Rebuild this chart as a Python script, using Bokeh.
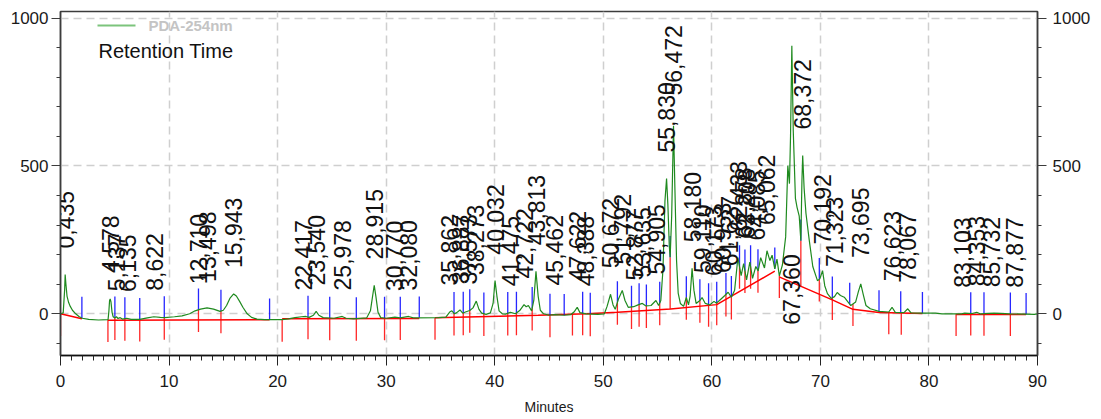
import math
import numpy as np
from bokeh.plotting import figure
from bokeh.models import (Range1d, FixedTicker, LinearAxis, Label, BoxAnnotation)
from bokeh.core.properties import value
from bokeh.embed import file_html
from bokeh.resources import INLINE

# ---------------- data ----------------
trace_t = [0.0, 0.25, 0.38, 0.43, 0.5, 0.6, 0.75, 0.9, 1.1, 1.4, 1.7, 2.0, 2.6, 3.5, 4.38,
           4.46, 4.52, 4.58, 4.65, 4.75, 4.85, 5.0, 5.15, 5.3, 5.5, 5.7, 6.1, 6.5, 7.3,
           8.0, 8.6, 9.2, 9.6, 10.5, 11.2, 11.9, 12.4, 12.9, 13.5, 14.1, 14.7, 15.0, 15.3,
           15.6, 15.95, 16.2, 16.5, 16.8, 17.2, 17.6, 18.1, 18.8, 20.4, 21.0, 21.6, 22.2,
           22.6, 22.9, 23.3, 23.55, 23.8, 24.2, 25.2, 25.95, 26.3, 27.0, 28.2, 28.55, 28.75,
           28.9, 29.05, 29.25, 29.5, 30.0, 30.8, 31.3, 32.07, 32.5, 34.8, 35.5, 35.85, 36.05,
           36.3, 36.5, 36.8, 37.05, 37.3, 37.7, 38.0, 38.3, 38.55, 38.8, 39.2, 39.6, 39.85,
           40.03, 40.2, 40.4, 40.7, 41.0, 41.45, 41.9, 42.3, 42.7, 42.9, 43.1, 43.4, 43.6,
           43.8, 44.0, 44.2, 44.5, 45.0, 45.5, 46.4, 47.0, 47.35, 47.6, 47.85, 48.4, 49.5,
           50.1, 50.35, 50.67, 50.9, 51.1, 51.4, 51.75, 52.0, 52.3, 52.8, 53.2, 53.6, 53.9,
           54.4, 54.85, 55.1, 55.3, 55.5, 55.68, 55.83, 55.95, 56.08, 56.16, 56.3, 56.47,
           56.6, 56.75, 56.9, 57.1, 57.4, 57.65, 57.85, 58.0, 58.18, 58.35, 58.55, 58.9,
           59.1, 59.4, 59.8, 60.2, 60.43, 60.7, 61.2, 61.5, 61.8, 62.1, 62.4, 62.7, 62.93,
           63.2, 63.5, 63.75, 64.05, 64.27, 64.5, 64.85, 65.08, 65.35, 65.55, 65.8, 66.0,
           66.22, 66.5, 66.8, 67.0, 67.15, 67.25, 67.37, 67.5, 67.7, 67.85, 68.05, 68.2,
           68.3, 68.37, 68.5, 68.67, 68.97, 69.3, 69.73, 69.95, 70.2, 70.4, 70.65, 71.0,
           71.3, 71.55, 71.85, 72.2, 72.8, 73.25, 73.5, 73.72, 73.95, 74.2, 74.6, 75.4,
           76.3, 76.6, 76.9, 77.7, 78.05, 78.35, 79.3, 80.6, 81.2, 83.0, 83.3, 84.0, 84.4,
           84.7, 86.0, 87.5, 89.7, 90.0]
trace_v = [0, 3, 80, 133, 100, 60, 38, 25, 12, 0, -9, -15, -19, -21, -20,
           10, 45, 50, 40, 5, -10, -14, -10, -16, -13, -18, -15, -19, -19,
           -14, -10, -12, -13, -10, -7, 0, 10, 16, 20, 16, 8, 12, 28,
           52, 67, 60, 42, 22, 0, -12, -18, -20, -20, -17, -13, -10,
           -9, -12, -5, 8, -5, -13, -15, -9, -15, -17, -14, 10, 60,
           96, 60, 5, -13, -15, -11, -14, -9, -14, -13, -11, 6, 10,
           0, 4, 13, 2, 6, 11, 20, 43, 15, 2, -2, 3, 35,
           112, 60, 10, 0, -1, 5, 0, 11, 31, 24, 28, 10, 45,
           144, 60, 12, 0, -5, -3, -5, -3, 8, 22, 4, 0, -2,
           0, 25, 66, 30, 15, 50, 79, 45, 22, 24, 30, 35, 27,
           28, 45, 28, 45, 150, 380, 457, 370, 230, 191, 330, 636,
           420, 180, 70, 35, 25, 55, 30, 60, 154, 80, 35, 45,
           55, 35, 30, 42, 36, 45, 62, 73, 56, 80, 190, 129, 170,
           115, 175, 120, 160, 145, 190, 155, 213, 180, 198, 152, 185,
           128, 165, 260, 501, 440, 600, 906, 620, 390, 360, 330, 247,
           450, 535, 425, 340, 250, 160, 112, 118, 146, 95, 68, 52,
           58, 72, 62, 56, 28, 40, 75, 101, 65, 28, 17, 8,
           6, 22, 5, 4, 17, 3, 2, 2, 0, 0, 2, 1, 5,
           0, 2, 0, -2, 0]

nan = float("nan")
baseline_t = [0.0, 1.97, nan, 4.37, 19.26, nan, 20.42, 33.05, nan,
              34.5, 44.0, 48.5, 51.3, 56.2, 60.45, 65.8, nan,
              66.25, 71.1, 73.0, 75.4, 79.4, nan, 82.5, 88.95]
baseline_v = [0, -17, nan, -22, -20, nan, -17, -16, nan,
              -13, -5, 0, 5, 16, 31, 144, nan,
              124, 47, 15, 4, 1, nan, -2, -2]

peak_starts = [0.0, 4.37, 5.01, 5.93, 7.30, 9.56, 12.71, 14.78, 20.42,
               22.8, 24.8, 27.25, 29.85, 31.3, 34.5, 36.25, 37.1, 37.7, 39.0, 41.2, 42.0, 43.45,
               45.09, 47.16, 48.1, 48.8, 51.3, 52.6, 53.3, 53.97, 55.2,
               57.65, 58.9, 59.7, 60.45, 61.3, 61.8, 62.55, 63.05, 63.57, 64.25,
               66.22, 69.9, 71.1, 73.0, 76.3, 77.45, 82.5, 83.85, 85.07, 87.5]
peak_ends = [1.97, 5.01, 5.93, 7.30, 9.56, 12.71, 14.78, 19.26,
             22.8, 24.8, 27.25, 29.85, 31.3, 33.05, 36.25, 37.1, 37.7, 39.0, 41.2, 42.0, 43.45,
             45.09, 46.4, 48.1, 48.8, 51.3, 52.6, 53.3, 53.97, 55.2,
             57.65, 58.9, 59.7, 60.45, 61.3, 61.8, 62.55, 63.05, 63.57, 64.25, 65.8,
             69.9, 71.1, 72.7, 75.4, 77.4, 79.4, 83.85, 85.07, 87.5, 88.95]
valley_drops = [56.16, 68.2]

peak_labels = ["0,435", "4,578", "5,137", "6,135", "8,622", "12,710", "13,498", "15,943",
               "22,417", "23,540", "25,978", "28,915", "30,770", "32,080", "35,862", "36,887",
               "37,573", "38,273", "40,032", "41,475", "42,722", "43,813", "45,462", "47,622",
               "48,388", "50,672", "51,792", "52,877", "53,635", "54,905", "55,830", "56,472",
               "58,180", "59,110", "60,173", "60,953", "61,627", "62,433", "62,878", "63,208",
               "64,085", "65,062", "68,372", "70,192", "71,323", "73,695", "76,623", "78,067",
               "83,103", "84,353", "85,732", "87,877"]
peak_height = [133, 50, -12, -14, -10, 12, 20, 67,
               -9, 8, -9, 96, -11, -9, 8, 13,
               11, 43, 112, 5, 31, 144, 8, 22,
               5, 66, 79, 25, 35, 45, 457, 650,
               154, 50, 40, 50, 73, 191, 169, 165,
               160, 212, 535, 146, 70, 101, 22, 17,
               0, 5, 2, 0]
low_labels = ["67,360"]

x_major = list(range(0, 91, 10))
x_minor = list(range(0, 91))
y_major = [0, 500, 1000]
y_minor = list(range(-100, 1001, 100))

# ---------------- helpers ----------------
tt = np.array(trace_t, dtype=float)
tv = np.array(trace_v, dtype=float)


def trace_at(t):
    return float(np.interp(t, tt, tv))


bt = np.array(baseline_t, dtype=float)
bv = np.array(baseline_v, dtype=float)


def baseline_at(t):
    breaks = [-1] + list(np.where(np.isnan(bt))[0]) + [len(bt)]
    for a, b in zip(breaks[:-1], breaks[1:]):
        st, sv = bt[a + 1:b], bv[a + 1:b]
        if len(st) and st[0] <= t <= st[-1]:
            return float(np.interp(t, st, sv))
    return trace_at(t)


RED_LEN = 75
BLUE_LEN = 72

red_x, red_y0, red_y1 = [], [], []
for t in peak_starts:
    y = trace_at(t)
    red_x.append(t); red_y0.append(y); red_y1.append(y - RED_LEN)
for t in valley_drops:
    red_x.append(t); red_y0.append(baseline_at(t)); red_y1.append(trace_at(t))

blue_x, blue_y0, blue_y1 = [], [], []
for t in peak_ends + valley_drops:
    y = trace_at(t)
    blue_x.append(t); blue_y0.append(y); blue_y1.append(y + BLUE_LEN)

peak_rt = [float(s.replace(",", ".")) for s in peak_labels]
low_rt = [float(s.replace(",", ".")) for s in low_labels]
low_y = [baseline_at(t) for t in low_rt]

# ---------------- figure ----------------
FONT = "Liberation Sans"
p = figure(width=1093, height=419, x_range=Range1d(0, 90), y_range=Range1d(-141, 1022),
           output_backend="svg", toolbar_location=None,
           min_border_left=60, min_border_right=50, min_border_top=11, min_border_bottom=64)
p.background_fill_color = "white"
p.border_fill_color = "white"
p.outline_line_color = "#3c3c3c"
p.outline_line_width = 1.5

xt = FixedTicker(ticks=x_major, minor_ticks=x_minor)
yt = FixedTicker(ticks=y_major, minor_ticks=y_minor)
p.xaxis.ticker = xt
p.yaxis.ticker = yt
p.xgrid.ticker = xt
p.ygrid.ticker = yt
for g in (p.xgrid, p.ygrid):
    g.grid_line_color = "#cfcfcf"
    g.grid_line_width = 1.5
    g.grid_line_dash = "8 5"

right = LinearAxis(ticker=yt)
p.add_layout(right, "right")

for ax, standoff in ((p.yaxis[0], 3), (right, 6)):
    ax.major_tick_out = 9
    ax.major_tick_in = 0
    ax.minor_tick_out = 4
    ax.minor_tick_in = 0
    ax.major_label_standoff = standoff
    ax.axis_line_color = "#3c3c3c"
    ax.axis_line_width = 1.5
    ax.major_tick_line_color = "#3c3c3c"
    ax.minor_tick_line_color = "#3c3c3c"
    ax.major_label_text_font = FONT
    ax.major_label_text_font_size = "17px"
    ax.major_label_text_color = "#1a1a1a"

xa = p.xaxis[0]
xa.major_tick_out = 10
xa.major_tick_in = 0
xa.minor_tick_out = 5
xa.minor_tick_in = 0
xa.major_label_standoff = 9
xa.axis_line_color = "#111111"
xa.axis_line_width = 1.5
xa.major_tick_line_color = "#222222"
xa.minor_tick_line_color = "#222222"
xa.major_label_text_font = FONT
xa.major_label_text_font_size = "17px"
xa.major_label_text_color = "#1a1a1a"
xa.axis_label = "Minutes"
xa.axis_label_text_font = FONT
xa.axis_label_text_font_size = "14px"
xa.axis_label_text_font_style = "normal"
xa.axis_label_standoff = 9
xa.axis_label_text_color = "#1a1a1a"

# baseline and drop lines
p.line(baseline_t, baseline_v, line_color="#ff0000", line_width=1.5)
p.segment(x0=red_x, y0=red_y0, x1=red_x, y1=red_y1, line_color="#ff0000",
          line_width=1.3, line_alpha=0.85)
p.segment(x0=blue_x, y0=blue_y0, x1=blue_x, y1=blue_y1, line_color="#0000ff",
          line_width=1.3, line_alpha=0.85)

# chromatogram trace
p.line(trace_t, trace_v, line_color="#1f8a1f", line_width=1.2)

# peak labels
p.text(x=peak_rt, y=peak_height, text=peak_labels, angle=math.pi / 2,
       text_align="left", text_baseline="middle", y_offset=-26,
       text_font=value(FONT), text_font_size="23px", text_color="#111111")
p.text(x=low_rt, y=low_y, text=low_labels, angle=math.pi / 2,
       text_align="right", text_baseline="middle", y_offset=-28,
       text_font=value(FONT), text_font_size="23px", text_color="#111111")

# legend (drawn in screen units, relative to the plot frame)
p.add_layout(BoxAnnotation(left=37, right=75, bottom=329, top=331,
                           left_units="screen", right_units="screen",
                           bottom_units="screen", top_units="screen",
                           fill_color="#7cc47c", fill_alpha=1.0, line_color=None))
p.add_layout(Label(x=88, y=330, x_units="screen", y_units="screen",
                   text="PDA-254nm", text_font=FONT, text_font_size="15px",
                   text_font_style="bold", text_baseline="middle", text_color="#c4c4c4"))
p.add_layout(Label(x=38, y=305, x_units="screen", y_units="screen",
                   text="Retention Time", text_font=FONT, text_font_size="20px",
                   text_baseline="middle", text_color="#111111"))

open("out.html", "w").write(file_html(p, INLINE))
